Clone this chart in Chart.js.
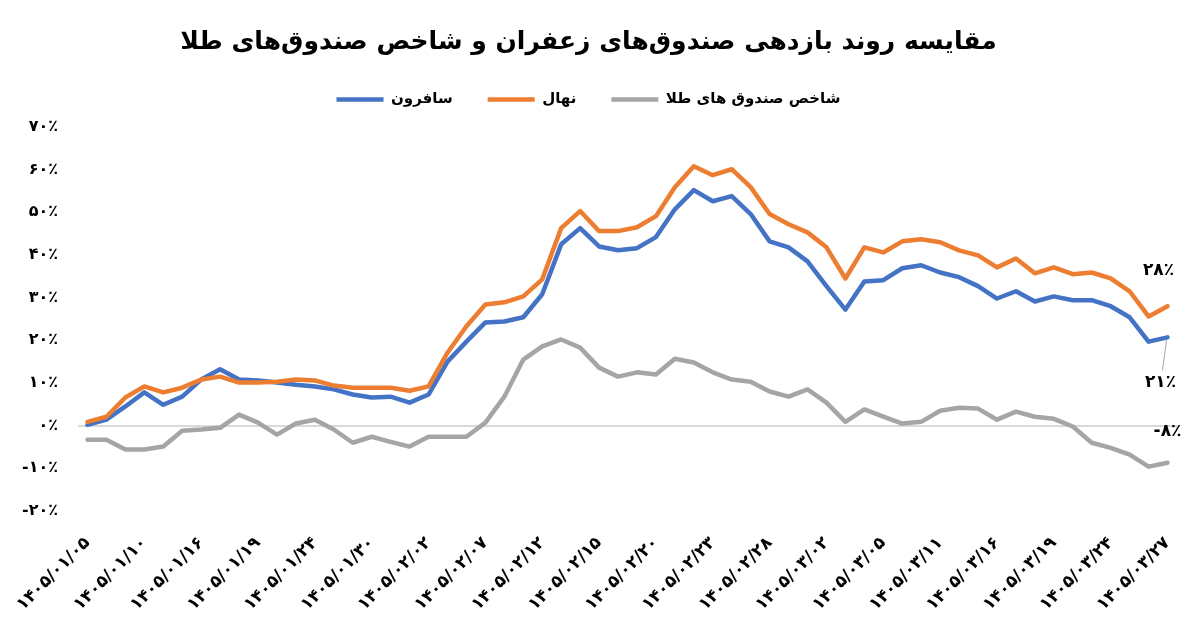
<!DOCTYPE html>
<html lang="fa">
<head>
<meta charset="utf-8">
<title>مقایسه روند بازدهی صندوق‌های زعفران و شاخص صندوق‌های طلا</title>
<script src="https://cdn.jsdelivr.net/npm/chart.js@4.4.1/dist/chart.umd.min.js"></script>
<style>
  html, body { margin: 0; padding: 0; background: #fff; }
  #wrap { width: 1200px; height: 636px; }
</style>
</head>
<body>
<div id="wrap"><canvas id="chart" width="1200" height="636"></canvas></div>
<script>
// تاریخ‌های محور افقی (هر سه روز معاملاتی یک برچسب)
const tickDates = ['۱۴۰۵/۰۱/۰۵', '۱۴۰۵/۰۱/۱۰', '۱۴۰۵/۰۱/۱۶', '۱۴۰۵/۰۱/۱۹', '۱۴۰۵/۰۱/۲۴',
  '۱۴۰۵/۰۱/۳۰', '۱۴۰۵/۰۲/۰۲', '۱۴۰۵/۰۲/۰۷', '۱۴۰۵/۰۲/۱۲', '۱۴۰۵/۰۲/۱۵',
  '۱۴۰۵/۰۲/۲۰', '۱۴۰۵/۰۲/۲۳', '۱۴۰۵/۰۲/۲۸', '۱۴۰۵/۰۳/۰۲', '۱۴۰۵/۰۳/۰۵',
  '۱۴۰۵/۰۳/۱۱', '۱۴۰۵/۰۳/۱۶', '۱۴۰۵/۰۳/۱۹', '۱۴۰۵/۰۳/۲۴', '۱۴۰۵/۰۳/۲۷'];

// برچسب‌های محور عمودی از پایین به بالا
const yTickLabels = ['-۲۰٪', '-۱۰٪', '۰٪', '۱۰٪', '۲۰٪', '۳۰٪', '۴۰٪', '۵۰٪', '۶۰٪', '۷۰٪'];

// بازدهی تجمعی (درصد)
const saffron = [0.2, 1.4, 4.5, 7.8, 4.9, 6.8, 10.8, 13.2, 10.8, 10.6,
  10.1, 9.6, 9.2, 8.5, 7.3, 6.6, 6.8, 5.4, 7.3, 15.0,
  19.7, 24.2, 24.4, 25.4, 30.8, 42.5, 46.3, 42.0, 41.1, 41.6,
  44.2, 50.7, 55.2, 52.6, 53.8, 49.6, 43.2, 41.8, 38.5, 32.7,
  27.2, 33.8, 34.1, 36.9, 37.6, 35.9, 34.8, 32.7, 29.8, 31.5,
  29.1, 30.3, 29.4, 29.4, 28.0, 25.4, 19.7, 20.7];

const nahal = [0.9, 2.1, 6.6, 9.2, 7.8, 8.9, 10.8, 11.5, 10.1, 10.1,
  10.3, 10.8, 10.6, 9.4, 8.9, 8.9, 8.9, 8.2, 9.2, 17.1,
  23.3, 28.4, 28.9, 30.3, 34.3, 46.3, 50.3, 45.6, 45.6, 46.5,
  49.1, 55.9, 60.8, 58.7, 60.1, 55.9, 49.6, 47.2, 45.3, 41.8,
  34.5, 41.8, 40.6, 43.2, 43.7, 43.0, 41.1, 39.9, 37.1, 39.2,
  35.7, 37.1, 35.5, 35.9, 34.5, 31.5, 25.6, 28.0];

const goldIndex = [-3.3, -3.3, -5.6, -5.6, -4.9, -1.2, -0.9, -0.5, 2.6, 0.7,
  -2.1, 0.5, 1.4, -0.9, -4.0, -2.6, -3.8, -4.9, -2.6, -2.6,
  -2.6, 0.7, 6.8, 15.5, 18.6, 20.2, 18.3, 13.6, 11.5, 12.5,
  12.0, 15.7, 14.8, 12.5, 10.8, 10.3, 8.0, 6.8, 8.5, 5.4,
  0.9, 3.8, 2.1, 0.5, 0.9, 3.5, 4.2, 4.0, 1.4, 3.3,
  2.1, 1.6, -0.2, -4.0, -5.2, -6.8, -9.6, -8.7];

// برچسب آخرین نقطه هر سری
const endLabels = ['۲۱٪', '۲۸٪', '-۸٪'];

const seriesNames = ['سافرون', 'نهال', 'شاخص صندوق های طلا'];
const seriesColors = ['#4472C4', '#ED7D31', '#A5A5A5'];

// هر سه نقطه یک تاریخ روی محور
const categories = saffron.map((_, i) => (i % 3 === 0 ? tickDates[i / 3] : ''));

Chart.defaults.font.family = '"DejaVu Sans", sans-serif';
Chart.defaults.color = '#000';

//فاصله بین راهنما و نمودار
const legendGap = {
  id: 'legendGap',
  beforeInit(chart) {
    const fit = chart.legend.fit;
    chart.legend.fit = function () {
      fit.call(this);
      this.height += 10;
    };
  }
};

//برچسب انتهای خطوط
const endLabelPlugin = {
  id: 'endLabels',
  afterDatasetsDraw(chart) {
    const ctx = chart.ctx;
    const offsets = [[-7, 45], [-9, -36], [0, -31]];
    ctx.save();
    ctx.font = 'bold 17px "DejaVu Sans"';
    ctx.fillStyle = '#000';
    ctx.textAlign = 'center';
    ctx.textBaseline = 'middle';
    chart.data.datasets.forEach((ds, i) => {
      const meta = chart.getDatasetMeta(i);
      const pt = meta.data[meta.data.length - 1];
      if (!pt) return;
      const [dx, dy] = offsets[i];
      if (i === 0) {
        // خط راهنمای برچسب سافرون
        ctx.strokeStyle = '#A5A5A5';
        ctx.lineWidth = 1;
        ctx.beginPath();
        ctx.moveTo(pt.x - 1, pt.y + 3);
        ctx.lineTo(pt.x - 5, pt.y + 33);
        ctx.stroke();
      }
      ctx.fillText(endLabels[i], pt.x + dx, pt.y + dy);
    });
    ctx.restore();
  }
};

const seriesData = [saffron, nahal, goldIndex];

new Chart(document.getElementById('chart').getContext('2d'), {
  type: 'line',
  data: {
    labels: categories,
    datasets: seriesData.map((values, i) => ({
      label: seriesNames[i],
      data: values,
      borderColor: seriesColors[i],
      backgroundColor: seriesColors[i],
      borderWidth: 4.5,
      borderJoinStyle: 'round',
      borderCapStyle: 'round',
      pointRadius: 0,
      tension: 0,
      order: [1, 0, 2][i]
    }))
  },
  options: {
    responsive: false,
    animation: false,
    layout: { padding: { left: 0, right: 23, top: 0, bottom: 0 } },
    plugins: {
      title: {
        display: true,
        text: 'مقایسه روند بازدهی صندوق‌های زعفران و شاخص صندوق‌های طلا',
        color: '#000',
        font: { size: 25, weight: 'bold' },
        padding: { top: 27, bottom: 0 }
      },
      legend: {
        position: 'top',
        labels: {
          usePointStyle: true,
          pointStyle: 'line',
          pointStyleWidth: 47,
          color: '#000',
          font: { size: 15, weight: 'bold' },
          padding: 35,
          sort: (a, b) => a.datasetIndex - b.datasetIndex
        }
      },
      tooltip: { enabled: false }
    },
    scales: {
      x: {
        offset: true,
        grid: { display: false },
        border: { display: false },
        ticks: {
          autoSkip: false,
          minRotation: 45,
          maxRotation: 45,
          padding: 14,
          color: '#000',
          font: { size: 17, weight: 'bold' }
        },
        afterFit: (scale) => { scale.height = 125; }
      },
      y: {
        min: -20,
        max: 70,
        border: { display: false },
        grid: {
          drawTicks: false,
          lineWidth: 2,
          color: (c) => (c.tick && c.tick.value === 0 ? '#D9D9D9' : 'rgba(0,0,0,0)')
        },
        ticks: {
          stepSize: 10,
          padding: 20,
          color: '#000',
          font: { size: 16, weight: 'bold' },
          callback: (v, i) => yTickLabels[i]
        },
        afterFit: (scale) => { scale.width = 78; }
      }
    }
  },
  plugins: [legendGap, endLabelPlugin]
});
</script>
</body>
</html>
